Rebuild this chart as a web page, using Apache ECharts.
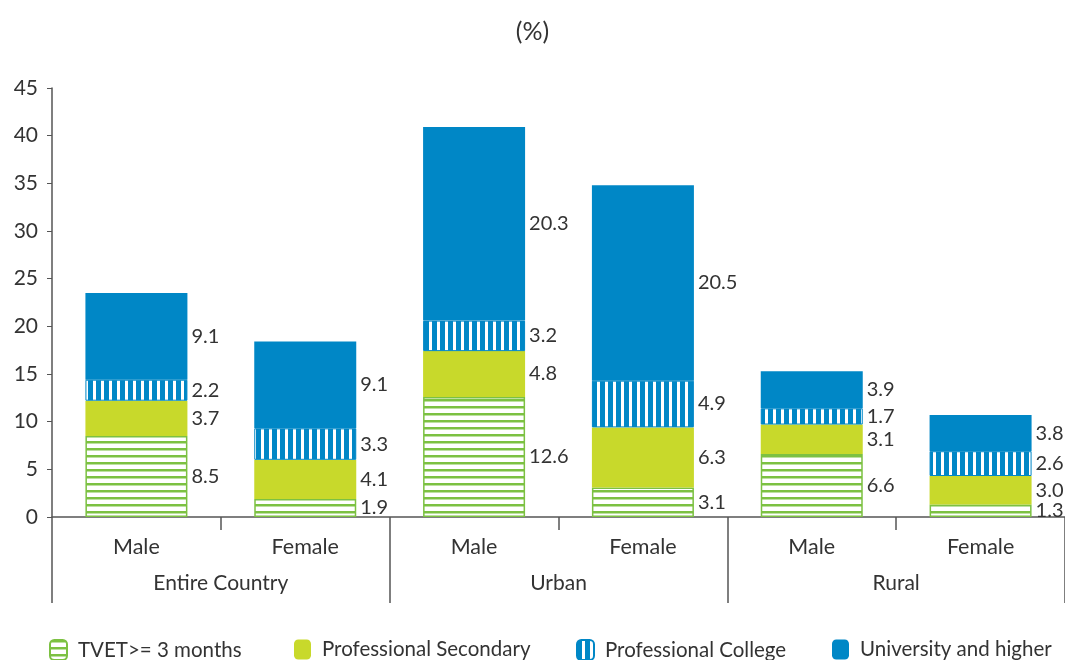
<!DOCTYPE html>
<html lang="en">
<head>
<meta charset="UTF-8" />
<title>Vocational and higher education by sex and area</title>
<script src="https://cdn.jsdelivr.net/npm/echarts@6/dist/echarts.min.js"></script>
<style>
  html,body{margin:0;padding:0;width:100%;height:100%;background:#fff;overflow:hidden;}
  #chart{width:1065px;height:660px;}
</style>
</head>
<body>
<div id="chart"></div>
<script>
/* ==== data ==== */
const sexes = ['Male', 'Female', 'Male', 'Female', 'Male', 'Female'];
const areas = ['Entire Country', 'Urban', 'Rural'];
const seriesNames = ['TVET>= 3 months', 'Professional Secondary', 'Professional College', 'University and higher'];
const tvet       = [8.5, 1.9, 12.6, 3.1, 6.6, 1.3];
const profSec    = [3.7, 4.1, 4.8, 6.3, 3.1, 3.0];
const profColl   = [2.2, 3.3, 3.2, 4.9, 1.7, 2.6];
const university = [9.1, 9.1, 20.3, 20.5, 3.9, 3.8];
const yTicks = [0, 5, 10, 15, 20, 25, 30, 35, 40, 45];

const GREEN = '#7cc142', LIME = '#c8d92b', BLUE = '#0087c6';
const FONT = "Lato, 'Open Sans', sans-serif";

/* striped fills drawn on small canvases */
function pattern(w, h, paint) {
  const c = document.createElement('canvas');
  c.width = w; c.height = h;
  const ctx = c.getContext('2d');
  ctx.fillStyle = '#fff';
  ctx.fillRect(0, 0, w, h);
  paint(ctx);
  return { image: c, repeat: 'repeat' };
}
const hStripes = pattern(8, 7, ctx => { ctx.fillStyle = GREEN; ctx.fillRect(0, 0, 8, 2.5); });
const vStripes = pattern(8, 8, ctx => { ctx.fillStyle = BLUE; ctx.fillRect(0, 0, 5, 8); });

const fills = [
  { color: hStripes, borderColor: GREEN, borderWidth: 1.5 },
  { color: LIME },
  { color: vStripes, borderColor: BLUE, borderWidth: 1 },
  { color: BLUE }
];
const values = [tvet, profSec, profColl, university];

const chart = echarts.init(document.getElementById('chart'));
const legendLeft = [44, 289, 571, 827];

chart.setOption({
  animation: false,
  textStyle: { fontFamily: FONT },
  title: {
    text: '(%)', left: 'center', top: 14,
    textStyle: { fontFamily: FONT, fontSize: 25, fontWeight: 'normal', color: '#333' }
  },
  legend: seriesNames.map((n, i) => ({
    data: [n], left: legendLeft[i], top: 634,
    itemWidth: 17, itemHeight: 20,
    textStyle: { fontFamily: FONT, fontSize: 20.5, color: '#333', padding: [0, 0, 0, 6] }
  })),
  grid: { left: 52, right: -9, top: 88, bottom: 143, containLabel: false },
  xAxis: [
    {
      type: 'category', data: sexes, position: 'bottom',
      axisLine: { lineStyle: { color: '#555', width: 1.5 } },
      axisTick: { show: true, length: 13, lineStyle: { color: '#555', width: 1.5 } },
      axisLabel: { margin: 19, fontSize: 21.5, color: '#333', fontFamily: FONT }
    },
    {
      type: 'category', data: areas, position: 'bottom',
      axisLine: { show: false },
      axisTick: { show: true, length: 86, lineStyle: { color: '#555', width: 1.5 } },
      axisLabel: { margin: 56, fontSize: 21, color: '#333', fontFamily: FONT }
    }
  ],
  yAxis: {
    type: 'value', min: 0, max: 45, interval: 5,
    axisLine: { show: true, lineStyle: { color: '#555', width: 1.5 } },
    axisTick: { show: true, length: 5, lineStyle: { color: '#555' } },
    splitLine: { show: false },
    axisLabel: { margin: 14, fontSize: 21, color: '#333', fontFamily: FONT,
      formatter: v => yTicks.includes(v) ? String(v) : '' }
  },
  series: seriesNames.map((name, i) => ({
    name, type: 'bar', stack: 'total', xAxisIndex: 0,
    barWidth: 102,
    data: values[i],
    itemStyle: fills[i],
    label: {
      show: true, position: 'right', distance: 4,
      fontSize: 20, color: '#333', fontFamily: FONT,
      formatter: p => p.value.toFixed(1)
    }
  }))
});
</script>
</body>
</html>
